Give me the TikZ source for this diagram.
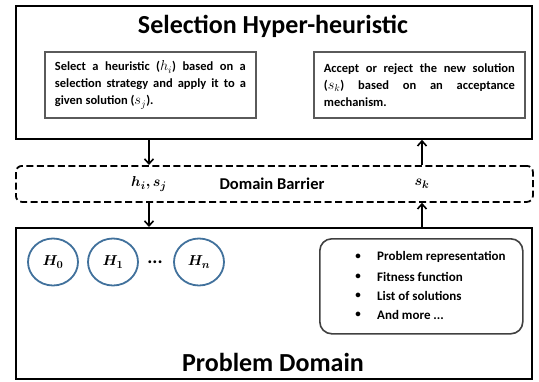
\documentclass[tikz,border=0pt]{standalone}
\usepackage{amsmath,bm}
\usepackage{fontspec}
\setmainfont{Carlito}
\usetikzlibrary{arrows.meta,shapes.geometric}

\definecolor{boxgray}{HTML}{5A5A5A}
\definecolor{ringblue}{HTML}{41719C}
\definecolor{listgray}{HTML}{404040}

% inline symbol set a little larger than the surrounding text
\newcommand{\sym}[1]{{\fontsize{14}{17}\selectfont$#1$}}

\tikzset{
  frame/.style={draw=black, line width=1.8pt, anchor=north west, inner sep=0pt},
  headline/.style={font=\fontsize{26}{30}\selectfont\bfseries, inner sep=0pt},
  taskbox/.style={draw=boxgray, line width=1.8pt, anchor=north west,
    text width=191pt, inner xsep=10pt, inner ysep=0pt,
    minimum height=66pt, align=justify,
    font=\fontsize{12.5}{17}\selectfont\bfseries},
  barrier/.style={draw=black, line width=1.8pt, dash pattern=on 7pt off 3.5pt,
    rounded corners=6pt, anchor=north west, inner sep=0pt},
  tag/.style={font=\fontsize{16.5}{18}\selectfont\bfseries, inner sep=0pt},
  symtag/.style={font=\fontsize{15}{17}\selectfont, inner sep=0pt},
  flow/.style={line width=1.6pt, -{Straight Barb[length=5pt,width=9pt,line width=1.6pt]}},
  ring/.style={draw=ringblue, line width=1.8pt, ellipse, minimum width=50pt,
    minimum height=47pt, inner sep=0pt, font=\fontsize{15}{17}\selectfont},
  infobox/.style={draw=listgray, line width=1.6pt, rounded corners=12pt,
    anchor=north west, inner sep=0pt},
  item/.style={font=\fontsize{13}{15}\selectfont\bfseries, anchor=west, inner sep=0pt},
  dot/.style={font=\fontsize{11}{15}\selectfont\bfseries, inner sep=0pt},
  ellip/.style={font=\fontsize{19}{20}\selectfont\bfseries, inner sep=0pt}
}

\begin{document}
\begin{tikzpicture}[x=1pt,y=-1pt]
\useasboundingbox (0,0) rectangle (539,381);

% selection hyper-heuristic layer
\node[frame, minimum width=516pt, minimum height=133pt] (shh) at (15,5) {};
\node[headline] (shhtitle) at (273,26) {Selection Hyper-heuristic};
\node[taskbox] (select) at (44,51)
  {Select a heuristic (\sym{h_i}) based on a\linebreak selection strategy and apply it to a\linebreak given solution (\sym{s_j}).};
\node[taskbox] (accept) at (313,51)
  {Accept or reject the new solution\linebreak (\sym{s_k}) based on an acceptance\linebreak mechanism.};

% domain barrier
\node[barrier, minimum width=517pt, minimum height=36pt] (barrier) at (15,165) {};
\node[symtag] (hs) at (149,184) {$\bm{h_i{,}\,s_j}$};
\node[tag] (bartitle) at (272,184) {Domain Barrier};
\node[symtag] (sk) at (422,184) {$\bm{s_k}$};

% problem domain layer
\node[frame, minimum width=516pt, minimum height=151pt] (pd) at (15,227) {};
\node[headline] (pdtitle) at (273,362) {Problem Domain};

\node[ring] (h0) at (53,262) {$\bm{H_0}$};
\node[ring] (h1) at (113,262) {$\bm{H_1}$};
\node[ellip] (hdots) at (155,262) {...};
\node[ring] (hn) at (199,262) {$\bm{H_n}$};

\node[infobox, minimum width=203pt, minimum height=95pt] (info) at (319,238) {};
\node[dot] (b1) at (358,257) {•};
\node[item] (i1) at (377,257) {Problem representation};
\node[dot] (b2) at (358,277) {•};
\node[item] (i2) at (377,277) {Fitness function};
\node[dot] (b3) at (358,296) {•};
\node[item] (i3) at (377,296) {List of solutions};
\node[dot] (b4) at (358,315) {•};
\node[item] (i4) at (377,315) {And more ...};

% messages crossing the barrier
\draw[flow] (shh.south -| hs) -- (barrier.north -| hs);
\draw[flow] (barrier.south -| hs) -- (pd.north -| hs);
\draw[flow] (pd.north -| sk) -- (barrier.south -| sk);
\draw[flow] (barrier.north -| sk) -- (shh.south -| sk);
\end{tikzpicture}
\end{document}
